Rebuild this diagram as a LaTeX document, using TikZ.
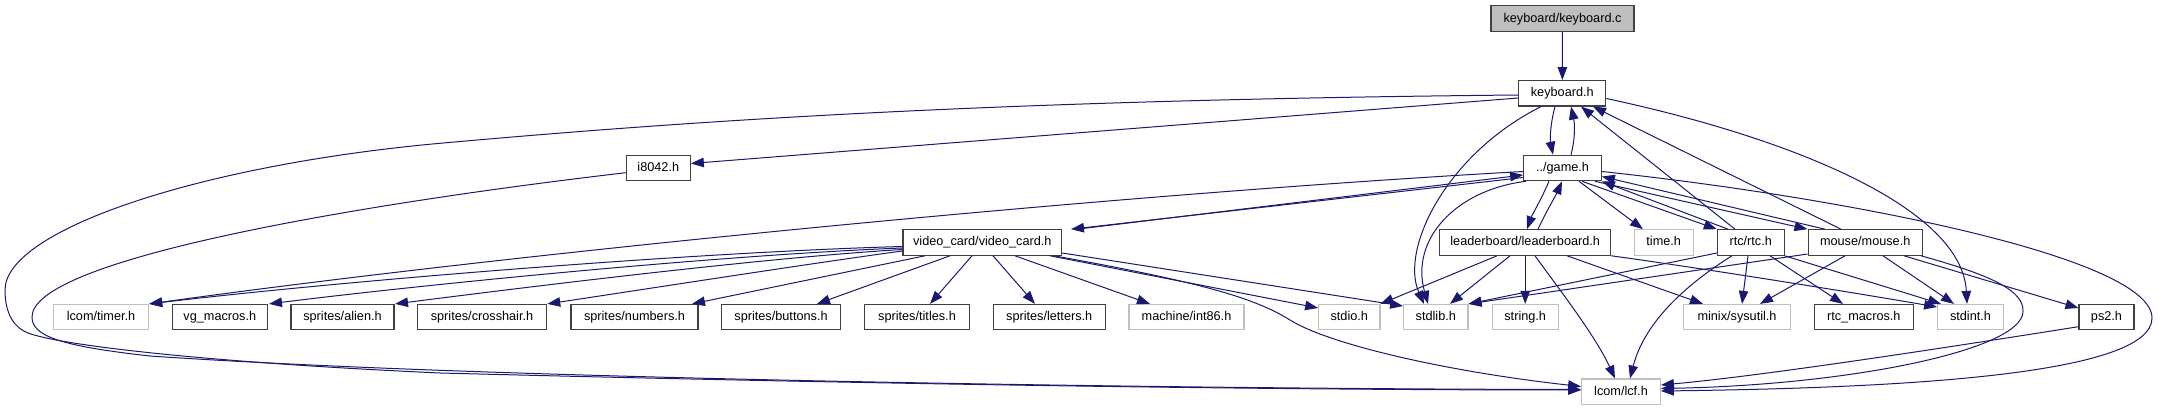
\documentclass[tikz,border=0pt]{standalone}
\usepackage{fontspec}
\setmainfont{Liberation Sans}
\usetikzlibrary{arrows.meta}
\definecolor{edgeblue}{HTML}{191970}
\definecolor{boxblack}{HTML}{404040}
\definecolor{boxgray}{HTML}{BFBFBF}
\begin{document}
\begin{tikzpicture}[x=1pt,y=-1pt,
  box/.style={draw=boxblack, line width=1.1pt, minimum height=25.5pt, inner sep=0pt,
    text height=9.5pt, text depth=2.7pt, font=\fontsize{12.7}{15}\selectfont, text=black, fill=white},
  gbox/.style={box, draw=boxgray},
  rootbox/.style={box, fill=boxgray},
  e/.style={draw=edgeblue, line width=1pt, -{Triangle[length=13pt,width=9.5pt]}}]
\useasboundingbox (0,0) rectangle (2158,411);
% nodes
\node[rootbox, minimum width=143pt, minimum height=26pt] (kbc) at (1562.5,18.7) {keyboard/keyboard.c};
\node[box, minimum width=87pt] (kbh) at (1562.3,93.3) {keyboard.h};
\node[box, minimum width=77.6pt] (game) at (1562.5,168) {../game.h};
\node[box, minimum width=64pt] (i8042) at (658.3,168) {i8042.h};
\node[box, minimum width=171pt] (lb) at (1525.2,242.5) {leaderboard/leaderboard.h};
\node[gbox, minimum width=58.7pt] (time) at (1663.7,242.5) {time.h};
\node[box, minimum width=66.7pt] (rtc) at (1750.7,242.5) {rtc/rtc.h};
\node[box, minimum width=114.3pt] (mouse) at (1865.2,242.5) {mouse/mouse.h};
\node[box, minimum width=158.7pt] (vc) at (982.3,242.5) {video\_card/video\_card.h};
\node[gbox, minimum width=95.3pt] (timer) at (101,317.2) {lcom/timer.h};
\node[box, minimum width=95pt] (vgm) at (219.8,317.2) {vg\_macros.h};
\node[box, minimum width=103pt] (alien) at (342.5,317.2) {sprites/alien.h};
\node[box, minimum width=129.4pt] (cross) at (482,317.2) {sprites/crosshair.h};
\node[box, minimum width=127pt] (numbers) at (634.5,317.2) {sprites/numbers.h};
\node[box, minimum width=118.7pt] (buttons) at (781,317.2) {sprites/buttons.h};
\node[box, minimum width=104.7pt] (titles) at (917,317.2) {sprites/titles.h};
\node[box, minimum width=112.3pt] (letters) at (1049.2,317.2) {sprites/letters.h};
\node[gbox, minimum width=115pt] (int86) at (1186.5,317.2) {machine/int86.h};
\node[gbox, minimum width=61.3pt] (stdio) at (1349.3,317.2) {stdio.h};
\node[gbox, minimum width=64.3pt] (stdlib) at (1435.8,317.2) {stdlib.h};
\node[gbox, minimum width=65.7pt] (string) at (1525.2,317.2) {string.h};
\node[gbox, minimum width=106.6pt] (sysutil) at (1737,317.2) {minix/sysutil.h};
\node[box, minimum width=99pt] (rtcm) at (1863.8,317.2) {rtc\_macros.h};
\node[gbox, minimum width=65.7pt] (stdint) at (1970.5,317.2) {stdint.h};
\node[box, minimum width=55pt] (ps2) at (2106.5,317.2) {ps2.h};
\node[gbox, minimum width=78.7pt] (lcf) at (1621,391.8) {lcom/lcf.h};
% root
\draw[e] (kbc) -- (kbh);
% keyboard.h
\draw[e] (1555,0 |- kbh.south) .. controls (1550,125) and (1550,140) .. (1553,0 |- game.north);
\draw[e] (1571,0 |- game.north) .. controls (1575,140) and (1575,125) .. (1571,0 |- kbh.south);
\draw[e] (kbh.west |- 0,98) -- (i8042.east |- 0,163.5);
\draw[e] (kbh.west |- 0,95) .. controls (1000,100) and (700,120) .. (440,143.3)
  .. controls (200,165) and (5,230) .. (5,290) .. controls (5,315) and (15,328) .. (28,333)
  .. controls (60,345) and (200,362) .. (440,373) .. controls (900,385) and (1300,390) .. (lcf.west |- 0,390);
\draw[e] (i8042.west |- 0,172.7) .. controls (350,205) and (32,260) .. (32,317)
  .. controls (32,336) and (60,346) .. (150,356) .. controls (500,380) and (1200,389) .. (lcf.west |- 0,389.5);
\draw[e] (1541,0 |- kbh.south) .. controls (1445,155) and (1400,250) .. (1424,0 |- stdlib.north);
\draw[e] (kbh.east |- 0,98.5) .. controls (1800,140) and (1962,210) .. (1967,0 |- stdint.north);
% game.h
\draw[e] (game.west |- 0,177.5) -- (1071,0 |- vc.north);
\draw[e] (1077,0 |- vc.north) -- (game.west |- 0,175);
\draw[e] (game.west |- 0,171.5) .. controls (1100,195) and (500,255) .. (timer.north east);
\draw[e] (1549,0 |- game.south) .. controls (1541,200) and (1532,215) .. (1527,0 |- lb.north);
\draw[e] (1538,0 |- lb.north) .. controls (1546,212) and (1556,195) .. (1562,0 |- game.south);
\draw[e] (1579,0 |- game.south) -- (1643,0 |- time.north);
\draw[e] (1582,0 |- game.south) -- (rtc.north west);
\draw[e] (1728,0 |- rtc.north) -- (game.south east);
\draw[e] (1595,0 |- game.south) -- (mouse.north west);
\draw[e] (1825,0 |- mouse.north) -- (game.east |- 0,176.5);
\draw[e] (1526,0 |- game.south) .. controls (1455,190) and (1410,240) .. (1428,0 |- stdlib.north);
\draw[e] (game.east |- 0,171.5) .. controls (1850,198) and (2152,258) .. (2152,318)
  .. controls (2152,375) and (1900,388) .. (lcf.east |- 0,391);
\draw[e] (1735,0 |- rtc.north) -- (1581,0 |- kbh.south);
\draw[e] (1841,0 |- mouse.north) -- (1593,0 |- kbh.south);
% video_card.h
\draw[e] (vc.west |- 0,246.5) .. controls (700,252) and (350,280) .. (timer.north east);
\draw[e] (vc.west |- 0,248) .. controls (720,255) and (420,285) .. (269,0 |- vgm.north);
\draw[e] (vc.west |- 0,249.5) .. controls (760,258) and (520,288) .. (395,0 |- alien.north);
\draw[e] (vc.west |- 0,251) .. controls (820,262) and (640,290) .. (cross.north east);
\draw[e] (925,0 |- vc.south) -- (692,0 |- numbers.north);
\draw[e] (950,0 |- vc.south) -- (817,0 |- buttons.north);
\draw[e] (972,0 |- vc.south) -- (930,0 |- titles.north);
\draw[e] (993,0 |- vc.south) -- (1035,0 |- letters.north);
\draw[e] (1015,0 |- vc.south) -- (1150,0 |- int86.north);
\draw[e] (1050,0 |- vc.south) -- (stdio.west |- 0,308);
\draw[e] (vc.east |- 0,253) -- (stdlib.west |- 0,306);
\draw[e] (1054,0 |- vc.south) .. controls (1200,282) and (1255,298) .. (1290,320)
  .. controls (1330,345) and (1450,372) .. (lcf.west |- 0,386.5);
% leaderboard.h
\draw[e] (1497,0 |- lb.south) -- (stdio.north east);
\draw[e] (1510,0 |- lb.south) -- (1450,0 |- stdlib.north);
\draw[e] (lb.south) -- (string.north);
\draw[e] (1535,0 |- lb.south) .. controls (1556,285) and (1595,335) .. (1615,0 |- lcf.north);
\draw[e] (1567,0 |- lb.south) -- (1703,0 |- sysutil.north);
\draw[e] (lb.south east) .. controls (1700,268) and (1850,292) .. (stdint.west |- 0,307);
% rtc.h
\draw[e] (rtc.west |- 0,253) -- (stdlib.north east);
\draw[e] (1732,0 |- rtc.south) .. controls (1690,282) and (1645,320) .. (1630,0 |- lcf.north);
\draw[e] (1748,0 |- rtc.south) -- (1742,0 |- sysutil.north);
\draw[e] (1770,0 |- rtc.south) -- (1843,0 |- rtcm.north);
\draw[e] (rtc.south east) -- (1941,0 |- stdint.north);
% mouse.h
\draw[e] (mouse.west |- 0,254) -- (stdlib.north east);
\draw[e] (1845,0 |- mouse.south) -- (1760,0 |- sysutil.north);
\draw[e] (1883,0 |- mouse.south) -- (1954,0 |- stdint.north);
\draw[e] (1904,0 |- mouse.south) -- (ps2.west |- 0,308);
\draw[e] (1921,0 |- mouse.south) .. controls (1990,275) and (2024,290) .. (2023,311.7)
  .. controls (2022,350) and (1850,385) .. (lcf.east |- 0,388.5);
% ps2.h
\draw[e] (ps2.west |- 0,326.7) .. controls (1900,355) and (1750,377) .. (lcf.east |- 0,385);
\end{tikzpicture}
\end{document}
